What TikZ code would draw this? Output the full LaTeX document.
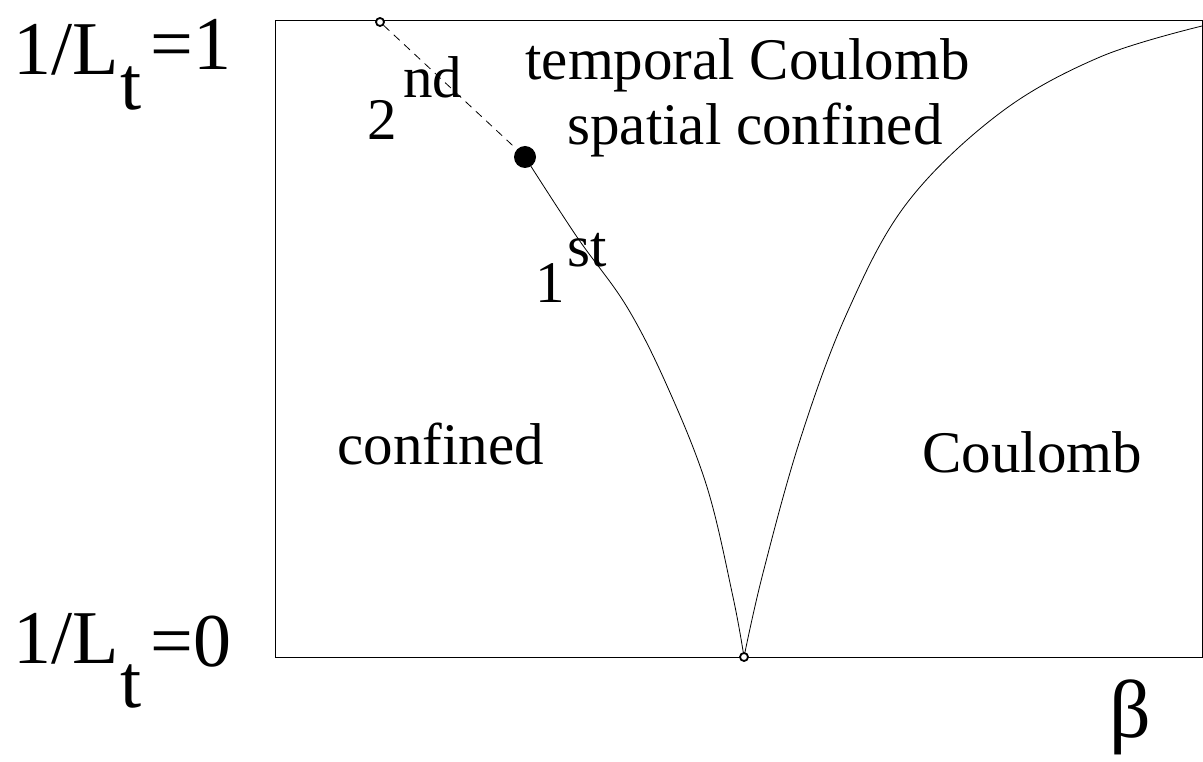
\documentclass[tikz,border=0pt]{standalone}
\usepackage{fontspec}
\setmainfont{Liberation Serif}
\usepackage{tikz}
\usetikzlibrary{arrows.meta}
\tikzset{lbl/.style={anchor=base west,inner sep=0pt,font=\fontsize{59}{70}\selectfont},
big/.style={anchor=base west,inner sep=0pt,font=\fontsize{76}{90}\selectfont},
opendot/.style={circle,draw,line width=1.8pt,fill=white,minimum size=8pt,inner sep=0pt},
bigdot/.style={circle,fill,minimum size=22pt,inner sep=0pt}}
\begin{document}
\begin{tikzpicture}[x=1pt,y=-1pt,line width=0.8pt]
\useasboundingbox(0,0)rectangle(1203,762);
\draw(275,20)rectangle(1202,657.5);
\draw plot[smooth,tension=0.6]coordinates{(525,157)(577,237)(627,307)(668,388)(707,487)(733,597)(744,657)};
\draw plot[smooth,tension=0.6]coordinates{(744,657)(763,573)(800,440)(847,313)(907,203)(1000,113)(1100,57)(1202,26)};
\node[opendot](tp)at(380,22){};
\node[bigdot](cp)at(525,157){};
\node[opendot](bp)at(744,657){};
\draw[dashed,dash pattern=on 8pt off 6pt](tp)--(cp);
\node[big](a1)at(13,75){1/L};
\node[big](a2)at(120,110){t};
\node[big](a3)at(150,70){=1};
\node[big](b1)at(13,663){1/L};
\node[big](b2)at(120,707){t};
\node[big](b3)at(150,666){=0};
\node[lbl](tc)at(525,80){temporal Coulomb};
\node[lbl](sc)at(567,145){spatial confined};
\node[lbl](cf)at(337,464){confined};
\node[lbl](cb)at(922,472){Coulomb};
\node[lbl](n2)at(367,140){2};
\node[lbl](nd)at(403,98){nd};
\node[lbl](n1)at(535,303){1};
\node[lbl](st)at(567,267){st};
\node[big,font=\fontsize{82}{96}\selectfont](be)at(1109,737){β};
\end{tikzpicture}
\end{document}
